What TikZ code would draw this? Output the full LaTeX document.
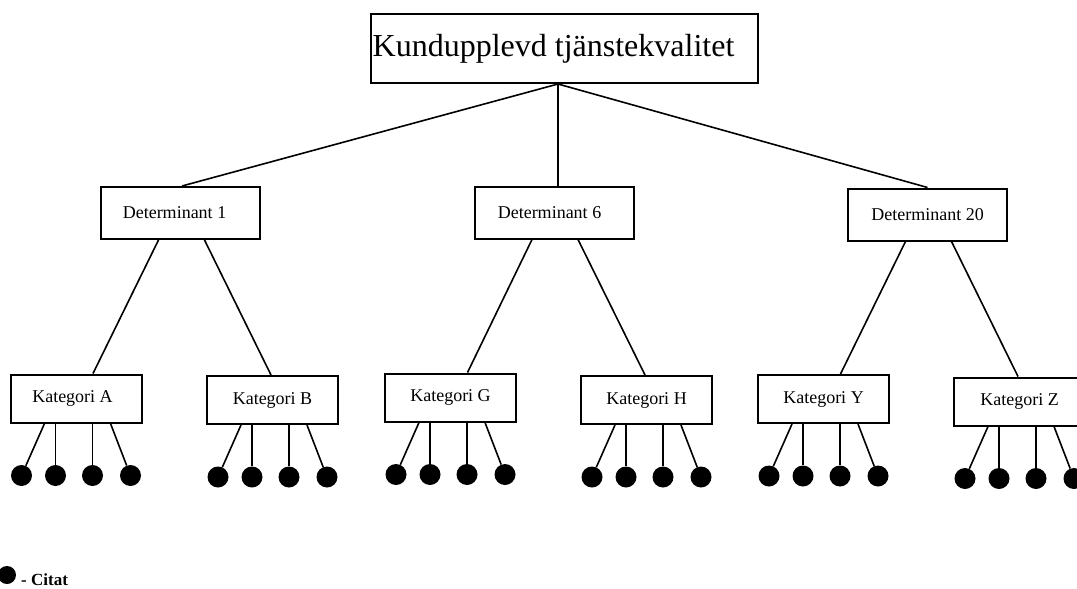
\documentclass[tikz,border=0pt]{standalone}
\usepackage{fontspec}
\setmainfont{Liberation Serif}
\usetikzlibrary{calc}

\tikzset{
  box/.style={draw, line width=2pt, inner sep=0pt, align=center},
  rootbox/.style={box, minimum width=387pt, minimum height=69pt, font=\fontsize{32}{35}\selectfont},
  detbox/.style={box, minimum width=159pt, minimum height=52pt, font=\fontsize{18}{20}\selectfont},
  catbox/.style={box, minimum width=131pt, minimum height=48pt, font=\fontsize{18}{20}\selectfont},
  link/.style={line width=1.6pt},
  quote/.style={circle, fill=black, minimum size=21pt, inner sep=0pt},
}

% four quotation dots hanging under a category box
\newcommand{\quotes}[1]{%
  \node[quote] (#1q1) at ($(#1.south west)+(12,52)$) {};
  \node[quote] (#1q2) at ($(#1.south west)+(46,52)$) {};
  \node[quote] (#1q3) at ($(#1.south west)+(83,52)$) {};
  \node[quote] (#1q4) at ($(#1.south west)+(121,52)$) {};
  \draw[link] ($(#1.south west)+(35,0)$) -- (#1q1);
  \draw[link] ($(#1.south west)+(46,0)$) -- (#1q2);
  \draw[link] ($(#1.south west)+(83,0)$) -- (#1q3);
  \draw[link] ($(#1.south west)+(101,0)$) -- (#1q4);
}

\begin{document}
\begin{tikzpicture}[x=1pt,y=-1pt]
\clip (0,0) rectangle (1077,589);
\fill[white] (0,0) rectangle (1077,589);

% root
\node[rootbox] (root) at (564.5,48.5) {Kundupplevd tjänstekvalitet\hspace*{22pt}};
\coordinate (hub) at ($(root.south)+(-6.5,0)$);

% determinants
\node[detbox] (d1)  at (180.5,213)   {Determinant 1\hspace*{12pt}};
\node[detbox] (d6)  at (554,212.5)   {Determinant 6\hspace*{9pt}};
\node[detbox] (d20) at (927.5,214.5) {Determinant 20};

\draw[link] (hub) -- ($(d1.north)+(1.5,0)$);
\draw[link] (hub) -- (hub |- d6.north);
\draw[link] (hub) -- (d20.north);

% categories
\node[catbox] (ka) at (76,398.5)    {Kategori A\hspace*{7pt}};
\node[catbox] (kb) at (272.5,400)   {Kategori B};
\node[catbox] (kg) at (450.5,397.5) {Kategori G};
\node[catbox] (kh) at (646.5,400)   {Kategori H};
\node[catbox] (ky) at (823.5,399)   {Kategori Y};
\node[catbox] (kz) at (1019.5,401.5){Kategori Z};

\draw[link] ($(d1.south)+(-22,0)$)  -- ($(ka.north)+(17,0)$);
\draw[link] ($(d1.south)+(24,0)$)   -- ($(kb.north)+(-1.5,0)$);
\draw[link] ($(d6.south)+(-22,0)$)  -- ($(kg.north)+(17,0)$);
\draw[link] ($(d6.south)+(24,0)$)   -- ($(kh.north)+(-1.5,0)$);
\draw[link] ($(d20.south)+(-22,0)$) -- ($(ky.north)+(17,0)$);
\draw[link] ($(d20.south)+(24,0)$)  -- ($(kz.north)+(-1.5,0)$);

\quotes{ka}
\quotes{kb}
\quotes{kg}
\quotes{kh}
\quotes{ky}
\quotes{kz}

% legend
\node[quote, minimum size=18pt] (legdot) at (7,575) {};
\node[anchor=west, inner sep=0pt, font=\fontsize{17}{19}\selectfont\bfseries] (legtext) at (21,580) {- Citat};
\end{tikzpicture}
\end{document}
